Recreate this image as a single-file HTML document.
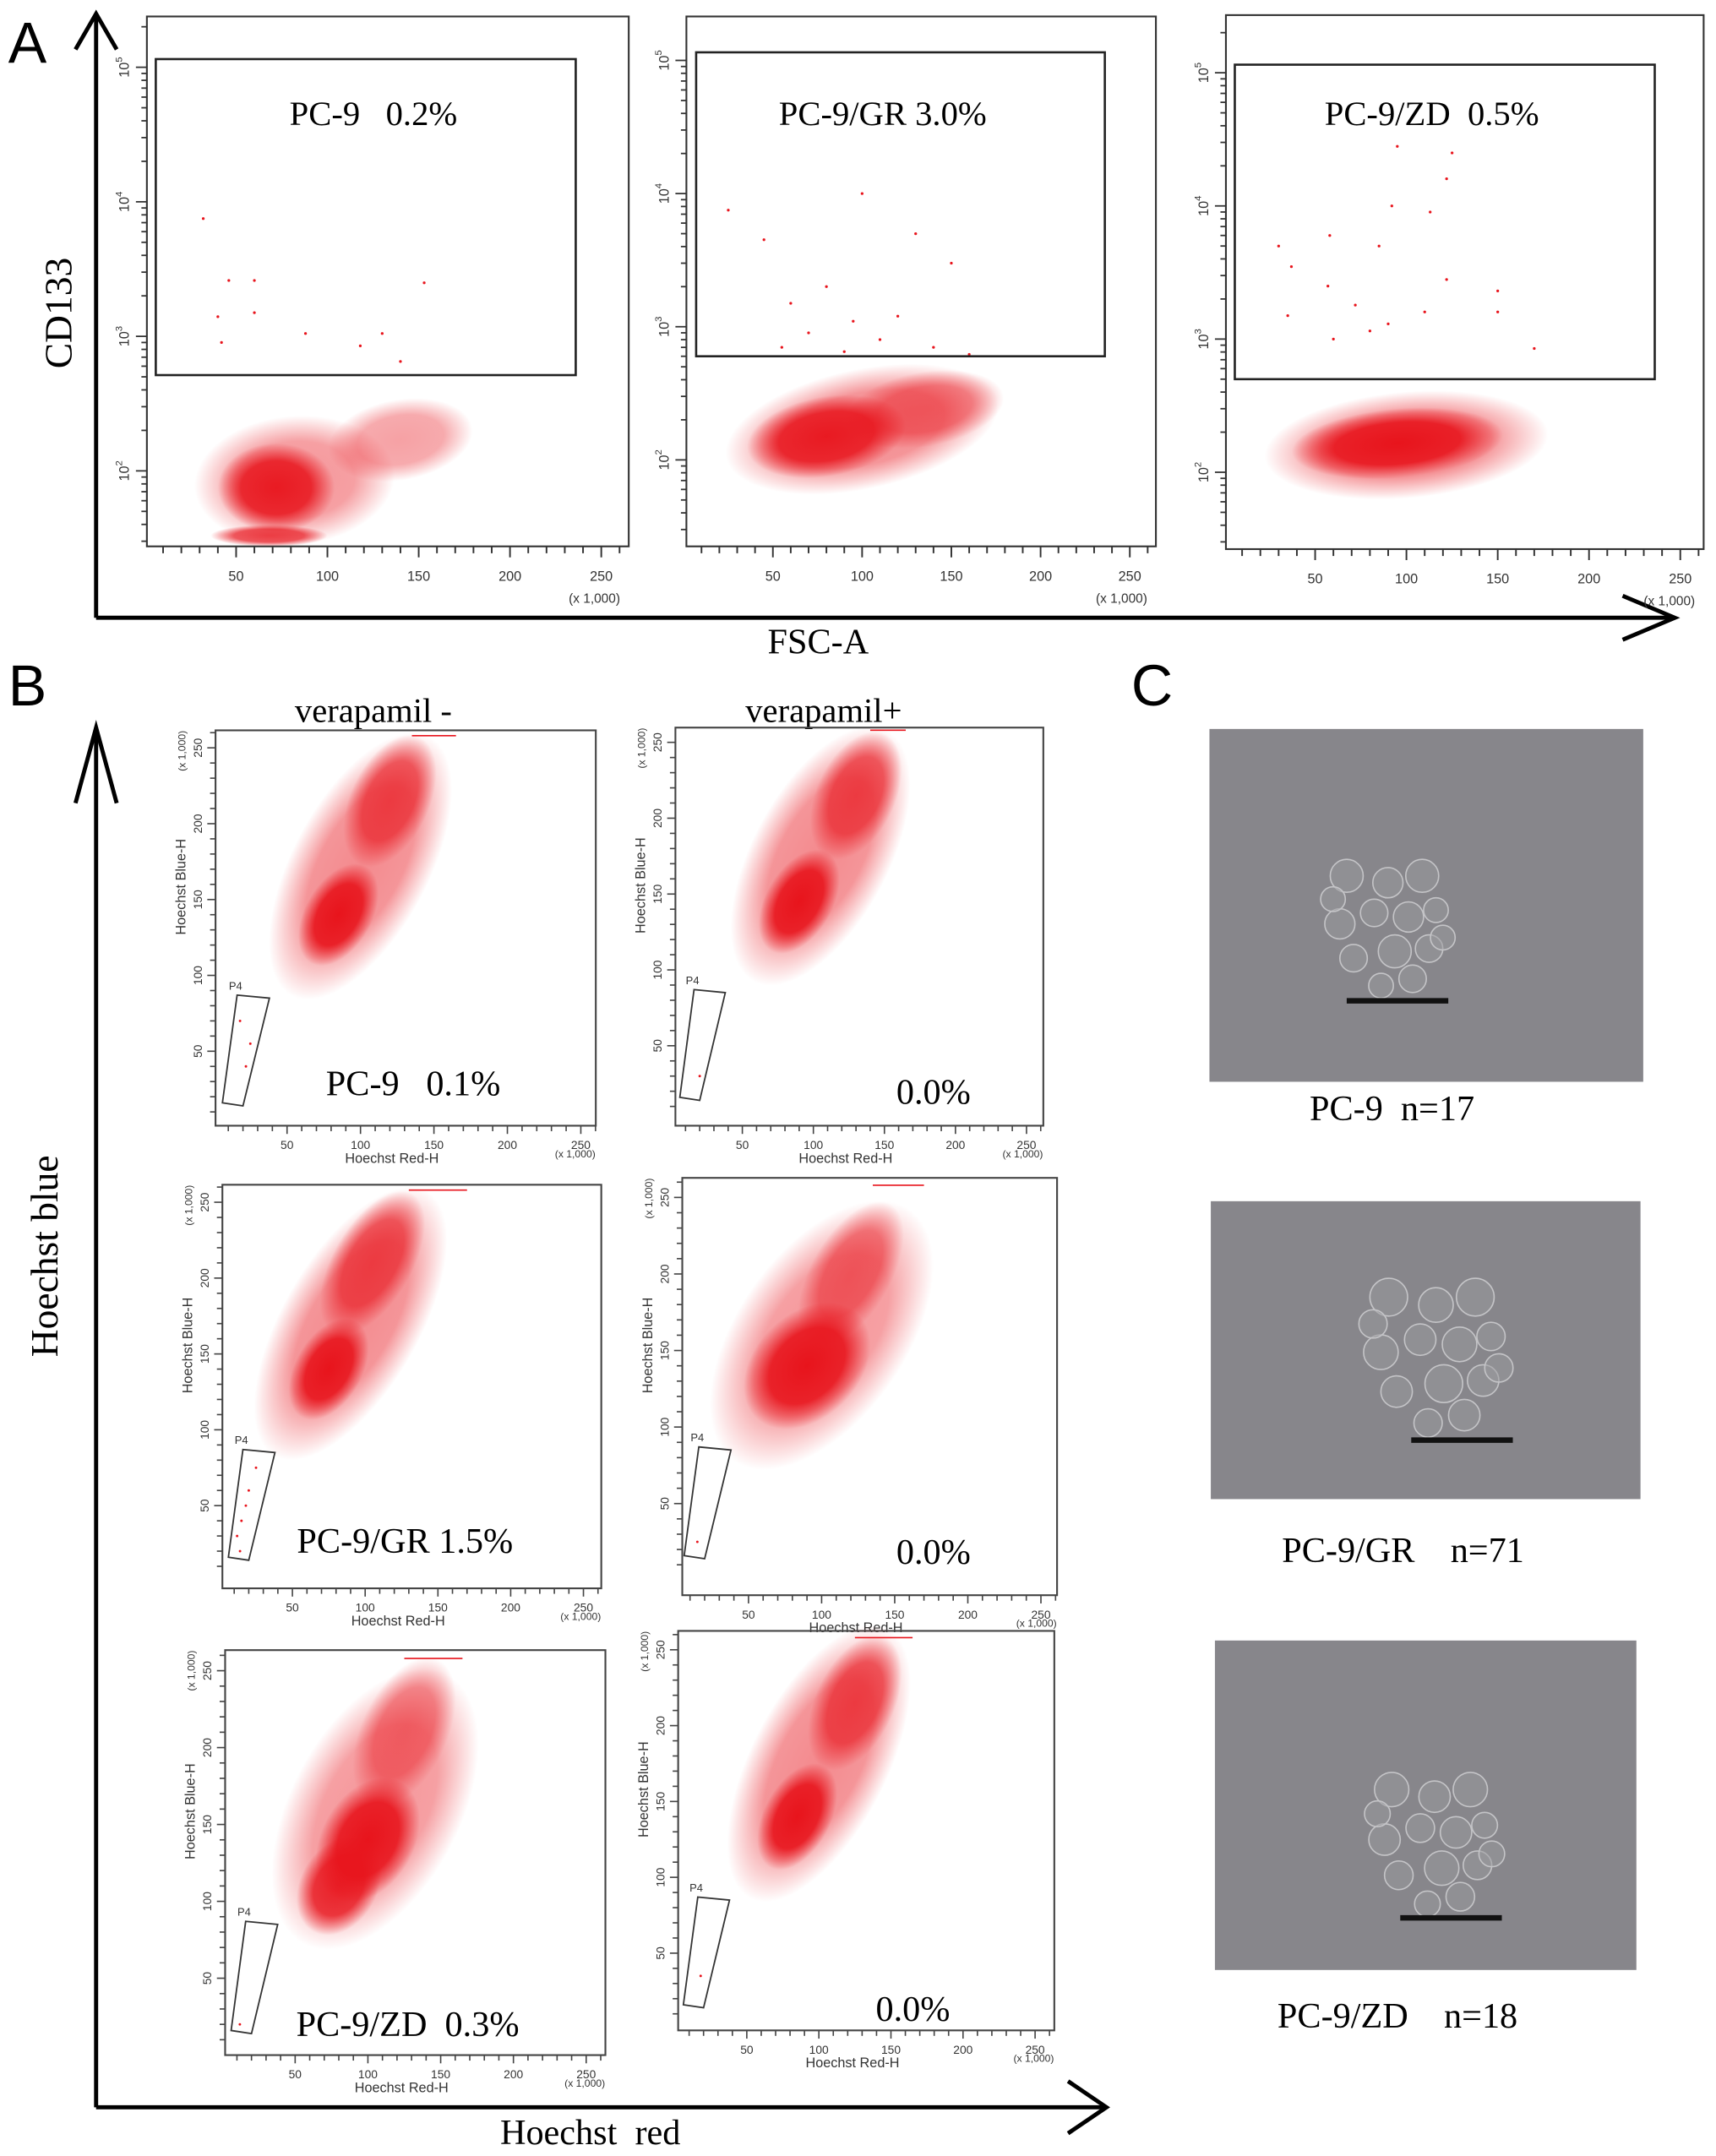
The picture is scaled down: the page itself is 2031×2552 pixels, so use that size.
<!DOCTYPE html>
<html><head><meta charset="utf-8"><style>
html,body{margin:0;padding:0;background:#fff;}
svg{display:block;}
text{font-family:"Liberation Sans",sans-serif;}
.serif{font-family:"Liberation Serif",serif;}
</style></head><body>
<svg id="fig" xmlns="http://www.w3.org/2000/svg" width="2031" height="2552" viewBox="0 0 1250 1570.5" preserveAspectRatio="none">
<defs>
<radialGradient id="cl"><stop offset="0" stop-color="#e8141c" stop-opacity="1"/><stop offset="0.6" stop-color="#e8141c" stop-opacity="0.9"/><stop offset="1" stop-color="#e8141c" stop-opacity="0"/></radialGradient>
</defs>
<g stroke="#000" stroke-width="3" fill="none">
<line x1="70" y1="10" x2="70" y2="450"/><polyline points="55,36 70,10 85,36"/>
<line x1="70" y1="450" x2="1220" y2="450"/><polyline points="1182,434 1220,450 1182,466"/>
</g>
<text x="6" y="46" font-size="42">A</text>
<text class="serif" x="0" y="0" font-size="28" text-anchor="middle" transform="translate(52,228) rotate(-90)">CD133</text>
<text class="serif" x="596" y="476" font-size="26" text-anchor="middle">FSC-A</text>
<g id="panelA"></g>
<g stroke="#000" stroke-width="3" fill="none">
<line x1="70" y1="530" x2="70" y2="1535"/><polyline points="55,585 70,530 85,585"/>
<line x1="70" y1="1535" x2="806" y2="1535"/><polyline points="778,1516 806,1535 778,1554"/>
</g>
<text x="6" y="514" font-size="42">B</text>
<text class="serif" font-size="28" text-anchor="middle" transform="translate(42,915) rotate(-90)">Hoechst  blue</text>
<text class="serif" x="430" y="1562" font-size="26" text-anchor="middle" style="white-space:pre">Hoechst  red</text>
<text class="serif" x="272" y="526" font-size="25" text-anchor="middle">verapamil -</text>
<text class="serif" x="600" y="526" font-size="25" text-anchor="middle">verapamil+</text>
<g id="panelB"></g>
<text x="824" y="514" font-size="42">C</text>
<g id="panelC"></g>
</svg>
<script>
const NS="http://www.w3.org/2000/svg";
// ---------- Panel A data ----------
const aLabels=["PC-9   0.2%","PC-9/GR 3.0%","PC-9/ZD  0.5%"];
const aGates=[[6,236,515,115000],[7,236,600,115000],[6,236,500,115000]];
// clusters: [fscK, cd133, spreadK, spreadDecades, rotDeg, opacity]
const aClustersPC9=[[82,85,55,0.48,-5,0.45],[140,170,40,0.3,-10,0.4],[72,75,32,0.33,0,0.95],[68,33,32,0.08,0,0.8]];
const aClustersGR=[[100,170,78,0.45,-12,0.5],[135,240,45,0.28,-10,0.5],[80,150,45,0.3,-10,0.95]];
const aClustersZD=[[100,160,78,0.4,-5,0.5],[95,165,58,0.26,-5,1]];
const aOutPC9=[[32,7500],[46,2600],[60,2600],[153,2500],[40,1400],[60,1500],[88,1050],[130,1050],[118,850],[42,900],[140,650]];
const aOutGR=[[25,7500],[100,10000],[45,4500],[150,3000],[130,5000],[80,2000],[60,1500],[120,1200],[95,1100],[70,900],[110,800],[140,700],[55,700],[90,650],[160,620]];
const aOutZD=[[95,28000],[125,25000],[122,16000],[92,10000],[113,9000],[58,6000],[30,5000],[85,5000],[37,3500],[57,2500],[122,2800],[150,2300],[72,1800],[110,1600],[150,1600],[80,1150],[90,1300],[60,1000],[35,1500],[170,850]];
const aClusters=[aClustersPC9,aClustersGR,aClustersZD];
const aOutliers=[aOutPC9,aOutGR,aOutZD];
const aXTicks=[50,100,150,200,250];
const aYTicks=[2,3,4,5];
// ---------- Panel B data ----------
const bLabels=["PC-9   0.1%","0.0%","PC-9/GR 1.5%","0.0%","PC-9/ZD  0.3%","0.0%"];
// clusters: [redK, blueK, majorK, minorK, rotDeg, opacity]
const bCl1=[[100,172,100,45,-62,0.5],[120,215,48,26,-65,0.7],[85,140,38,22,-60,1]];
const bCl2=[[105,175,100,45,-62,0.5],[130,215,48,26,-65,0.7],[90,145,40,22,-60,1]];
const bCl3=[[90,170,105,45,-60,0.5],[105,210,55,26,-60,0.7],[75,140,38,22,-60,1]];
const bCl4=[[100,160,105,55,-55,0.45],[120,200,55,26,-60,0.55],[90,140,50,34,-45,1]];
const bCl5=[[105,160,105,55,-62,0.45],[125,210,55,28,-65,0.5],[80,110,36,25,-60,0.9],[100,140,46,30,-60,1]];
const bCl6=[[100,175,105,45,-63,0.5],[125,215,50,26,-65,0.7],[85,140,40,22,-62,1]];
const bClusters=[bCl1,bCl2,bCl3,bCl4,bCl5,bCl6];
const bSat=[[135,165],[140,165],[130,170],[135,170],[125,165],[125,165]];
const bGate=[[16,87],[38,85],[20,14],[6,16]];
const bGateDots=[[[22,40],[18,70],[25,55]],[[20,30]],[[15,40],[20,60],[12,30],[25,75],[18,50],[14,20]],[[15,25]],[[12,20]],[[18,35]]];
const bXTicks=[50,100,150,200,250];
const bYTicks=[50,100,150,200,250];
// ---------- layout (geometry only) ----------
const aLayout=[
 {f:[107,12,458,398],x0:105.5,kx:1.33,y2:343,dec:98,tx:272,ty:91},
 {f:[500,12,842,398],x0:498,kx:1.3,y2:335,dec:97,tx:643,ty:91},
 {f:[893,11,1241,400],x0:891.5,kx:1.33,y2:344,dec:97,tx:1043,ty:91}];
const bLayout=[
 {f:[157,532,434,820],x0:155.6,kx:1.07,y0:821,ky:1.105,tx:301,ty:798},
 {f:[492,530,760,820],x0:489,kx:1.035,y0:817,ky:1.105,tx:680,ty:804},
 {f:[162,863,438,1157],x0:160,kx:1.06,y0:1152,ky:1.105,tx:295,ty:1131},
 {f:[497,858,770,1162],x0:492,kx:1.065,y0:1151,ky:1.115,tx:680,ty:1139},
 {f:[164,1202,441,1497],x0:162,kx:1.06,y0:1497,ky:1.12,tx:297,ty:1483},
 {f:[494,1188,768,1479],x0:491.5,kx:1.05,y0:1478,ky:1.105,tx:665,ty:1472}];
function mk(tag,attrs,parent){const e=document.createElementNS(NS,tag);for(const k in attrs)e.setAttribute(k,attrs[k]);if(parent)parent.appendChild(e);return e;}
const pA=document.getElementById('panelA');
aLayout.forEach((L,i)=>{
 const g=mk('g',{},pA);
 
 
 const X=v=>L.x0+v*L.kx, Y=v=>L.y2-(Math.log10(v)-2)*L.dec;
 const [x1,y1,x2,y2]=L.f;
 const fr=mk('rect',{x:x1,y:y1,width:x2-x1,height:y2-y1,fill:'none',stroke:'#333','stroke-width':1.3},g);
 
 
 aClusters[i].forEach(c=>{
  const e=mk('ellipse',{cx:X(c[0]),cy:Y(c[1]),rx:c[2]*L.kx,ry:c[3]*L.dec,fill:'url(#cl)',opacity:c[5],transform:`rotate(${c[4]} ${X(c[0])} ${Y(c[1])})`},g);
  
  
 });
 aOutliers[i].forEach(p=>{
  const d=mk('circle',{cx:X(p[0]),cy:Y(p[1]),r:1,fill:'#e8141c'},g);
  
  
 });
 const G=aGates[i];
 const gr=mk('rect',{x:X(G[0]),y:Y(G[3]),width:X(G[1])-X(G[0]),height:Y(G[2])-Y(G[3]),fill:'none',stroke:'#222','stroke-width':1.6},g);
 
 
 const t=mk('text',{x:L.tx,y:L.ty,'font-size':25,'text-anchor':'middle',class:'serif',style:'white-space:pre'},g);
 t.textContent=aLabels[i];
 
 
 for(let k=10;k<=260;k+=10){mk('line',{x1:X(k),x2:X(k),y1:y2,y2:y2+(k%50?5:8),stroke:'#333','stroke-width':1.2},g);}
 aXTicks.forEach(v=>{const tt=mk('text',{x:X(v),y:y2+25,'font-size':10,'text-anchor':'middle',fill:'#333'},g);tt.textContent=v;
  
  });
 const ux=mk('text',{x:x2-25,y:y2+41,'font-size':9.5,'text-anchor':'middle',fill:'#333'},g);ux.textContent='(x 1,000)';
 
 
 for(let d=1;d<=5;d++){for(let m=1;m<10;m++){const yy=L.y2-(d-2+Math.log10(m))*L.dec;if(yy<y1+3||yy>y2)continue;mk('line',{x1:x1-(m===1?8:4),x2:x1,y1:yy,y2:yy,stroke:'#333','stroke-width':1.1},g);}}
 aYTicks.forEach(d=>{const yy=L.y2-(d-2)*L.dec;const tt=mk('text',{'font-size':10,'text-anchor':'middle',fill:'#333',transform:`translate(${x1-13},${yy}) rotate(-90)`},g);tt.textContent='10';
  
  
  const sp=mk('tspan',{'font-size':7,dy:-5},tt);sp.textContent=d;});
});
const pB=document.getElementById('panelB');
bLayout.forEach((L,i)=>{
 const g=mk('g',{},pB);
 
 
 const X=v=>L.x0+v*L.kx, Y=v=>L.y0-v*L.ky;
 const [x1,y1,x2,y2]=L.f;
 const fr=mk('rect',{x:x1,y:y1,width:x2-x1,height:y2-y1,fill:'none',stroke:'#444','stroke-width':1.3},g);
 
 
 bClusters[i].forEach(c=>{
  const e=mk('ellipse',{cx:X(c[0]),cy:Y(c[1]),rx:c[2]*L.kx,ry:c[3]*L.ky,fill:'url(#cl)',opacity:c[5],transform:`rotate(${c[4]} ${X(c[0])} ${Y(c[1])})`},g);
  
  
 });
 const s=mk('line',{x1:X(bSat[i][0]),x2:X(bSat[i][1]),y1:Y(258),y2:Y(258),stroke:'#e8141c','stroke-width':1},g);
 
 
 bGateDots[i].forEach(p=>{const d=mk('circle',{cx:X(p[0]),cy:Y(p[1]),r:0.9,fill:'#e8141c'},g);
  
  });
 const pg=mk('polygon',{points:bGate.map(p=>X(p[0])+','+Y(p[1])).join(' '),fill:'none',stroke:'#333','stroke-width':1.1},g);
 
 
 const p4=mk('text',{x:X(bGate[0][0])-6,y:Y(bGate[0][1])-4,'font-size':8,fill:'#333'},g);p4.textContent='P4';
 
 
 for(let k=10;k<=260;k+=10){mk('line',{x1:X(k),x2:X(k),y1:y2,y2:y2+(k%50?4:6),stroke:'#444','stroke-width':1},g);
  const yy=Y(k);if(yy>y1&&yy<y2)mk('line',{x1:x1-(k%50?4:6),x2:x1,y1:yy,y2:yy,stroke:'#444','stroke-width':1},g);}
 bXTicks.forEach(v=>{const tt=mk('text',{x:X(v),y:y2+17,'font-size':8.5,'text-anchor':'middle',fill:'#333'},g);tt.textContent=v;
  
  });
 bYTicks.forEach(v=>{const tt=mk('text',{'font-size':8.5,'text-anchor':'middle',fill:'#333',transform:`translate(${x1-10},${Y(v)}) rotate(-90)`},g);tt.textContent=v;
  
  });
 const xt=mk('text',{x:(x1+x2)/2-10,y:y2+27,'font-size':10,'text-anchor':'middle',fill:'#333'},g);xt.textContent='Hoechst Red-H';
 
 
 const yt=mk('text',{'font-size':10,'text-anchor':'middle',fill:'#333',transform:`translate(${x1-22},${(y1+y2)/2-30}) rotate(-90)`},g);yt.textContent='Hoechst Blue-H';
 
 
 const ux=mk('text',{x:x2-15,y:y2+23,'font-size':7.5,'text-anchor':'middle',fill:'#333'},g);ux.textContent='(x 1,000)';
 
 
 const uy=mk('text',{'font-size':7.5,'text-anchor':'middle',fill:'#333',transform:`translate(${x1-22},${y1+15}) rotate(-90)`},g);uy.textContent='(x 1,000)';
 
 
 const t=mk('text',{x:L.tx,y:L.ty,'font-size':26,'text-anchor':'middle',class:'serif',style:'white-space:pre'},g);t.textContent=bLabels[i];
 
 
});
// ---------- Panel C ----------
const cLabels=["PC-9  n=17","PC-9/GR    n=71","PC-9/ZD    n=18"];
const cBoxes=[[881,531,1197,788,1011,673,48,981,1055,729,1014,816],[882,875,1195,1092,1046,985,55,1028,1102,1049,1022,1138],[885,1195,1192,1435,1045,1340,50,1020,1094,1397,1018,1477]];
const cellOff=[[-30,-35,12],[0,-30,11],[25,-35,12],[-35,0,11],[-10,-8,10],[15,-5,11],[35,-10,9],[-25,25,10],[5,20,12],[30,18,10],[-5,45,9],[18,40,10],[-40,-18,9],[40,10,9]];
const pC=document.getElementById('panelC');
cBoxes.forEach((b,i)=>{
 const g=mk('g',{},pC);
 
 
 mk('rect',{x:b[0],y:b[1],width:b[2]-b[0],height:b[3]-b[1],fill:'#87868b'},g);
 const sc=b[6]/48;
 cellOff.forEach(o=>{mk('circle',{cx:b[4]+o[0]*sc,cy:b[5]+o[1]*sc,r:o[2]*sc,fill:'#9a999e','fill-opacity':0.5,stroke:'#c4c4c7','stroke-width':1},g);});
 const bar=mk('line',{x1:b[7],x2:b[8],y1:b[9],y2:b[9],stroke:'#111','stroke-width':4},g);
 
 
 const t=mk('text',{x:b[10],y:b[11],'font-size':26,'text-anchor':'middle',class:'serif',style:'white-space:pre'},g);t.textContent=cLabels[i];
 
 
});
</script>
</body></html>
